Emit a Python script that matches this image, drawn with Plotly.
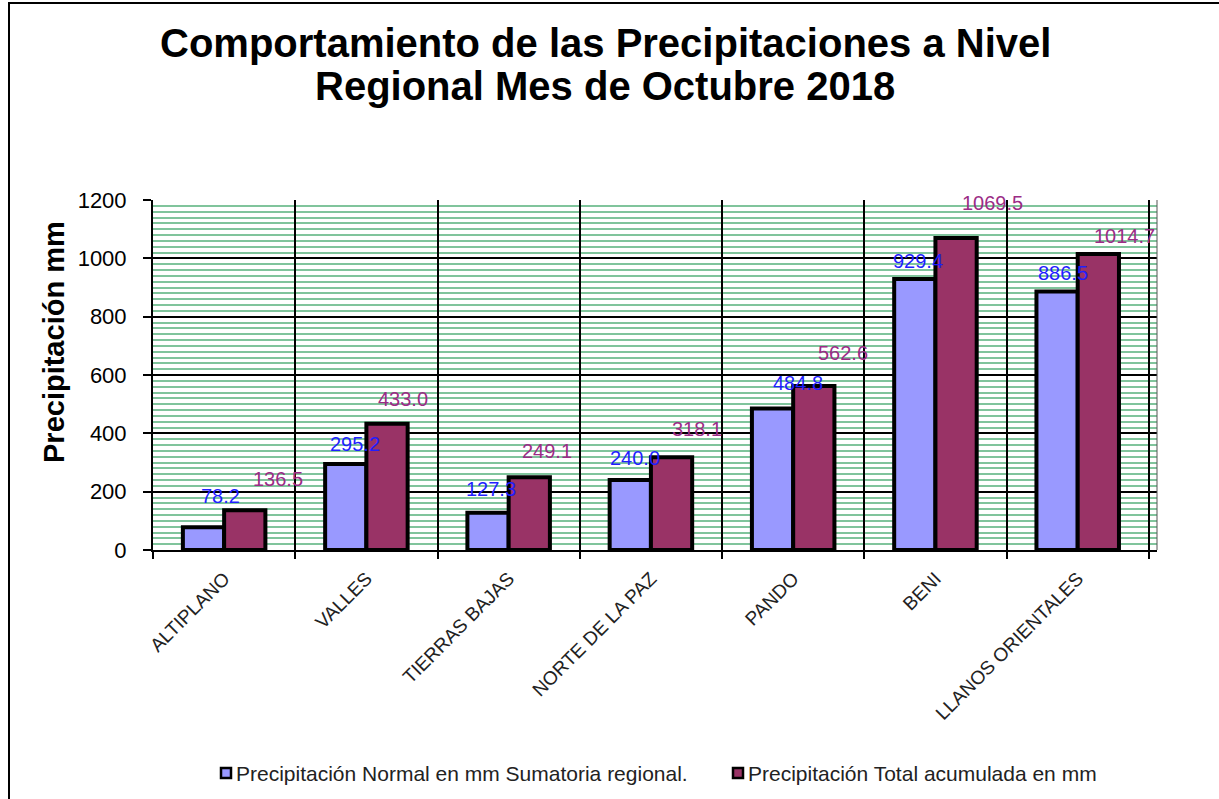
import plotly.graph_objects as go

# ---- data ----
categories = ["ALTIPLANO", "VALLES", "TIERRAS BAJAS", "NORTE DE LA PAZ",
              "PANDO", "BENI", "LLANOS ORIENTALES"]
normal_mm = [78.2, 295.2, 127.3, 240.0, 484.8, 929.4, 886.5]
total_mm = [136.5, 433.0, 249.1, 318.1, 562.6, 1069.5, 1014.7]
series_names = ["Precipitación Normal en mm Sumatoria regional.",
                "Precipitación Total acumulada en mm"]
y_ticks = [0, 200, 400, 600, 800, 1000, 1200]
title_lines = ["Comportamiento de las Precipitaciones a Nivel",
               "Regional Mes de Octubre 2018"]
y_title = "Precipitación mm"

# ---- style ----
W, H = 1219, 799
ML, MR, MT, MB = 153, 62, 200, 249
FONT = "Liberation Sans, Arial, sans-serif"
BLUE_FILL, RED_FILL = "#9999FF", "#993366"
BLUE_TXT, RED_TXT = "#1F1FFF", "#9B2C86"
# manual label offsets (pixels) as placed in the original chart
blue_dx = [17, 9, 3, 5, 26, 3, 6]
blue_dy = [31, 20, 24, 22, 26, 18, 18]
red_dx = [33, 16, 18, 25, 29, 36, 26]
red_dy = [31, 25, 26, 28, 33, 35, 18]
title_y_px = [43, 86]
legend_icon_x_px = [226, 738]
legend_y_px = 773

plot_w = W - ML - MR
plot_h = H - MT - MB
cat_w = plot_w / len(categories)
bargap = 0.42
half = cat_w * (1 - bargap) / 4  # center offset of each bar in group


def px_x(px):
    return (px - ML) / plot_w


def px_y(py):
    return (H - MB - py) / plot_h


fig = go.Figure()
fills = [BLUE_FILL, RED_FILL]
for name, vals, col in zip(series_names, [normal_mm, total_mm], fills):
    fig.add_trace(go.Bar(x=categories, y=vals, name=name, showlegend=False,
                         marker=dict(color=col, line=dict(color="black", width=4))))

ann = []
for i, c in enumerate(categories):
    ann.append(dict(x=c, y=normal_mm[i], xref="x", yref="y", text=f"{normal_mm[i]:.1f}",
                    showarrow=False, xshift=-half + blue_dx[i], yshift=blue_dy[i],
                    font=dict(family=FONT, size=20, color=BLUE_TXT)))
    ann.append(dict(x=c, y=total_mm[i], xref="x", yref="y", text=f"{total_mm[i]:.1f}",
                    showarrow=False, xshift=half + red_dx[i], yshift=red_dy[i],
                    font=dict(family=FONT, size=20, color=RED_TXT)))
# y axis title
ann.append(dict(x=px_x(36), y=px_y(342), xref="paper", yref="paper",
                text=f"<b>{y_title}</b>", textangle=-90, showarrow=False,
                font=dict(family=FONT, size=29, color="black")))
# chart title (two lines)
for line, ty in zip(title_lines, title_y_px):
    ann.append(dict(x=px_x(605), y=px_y(ty), xref="paper", yref="paper",
                    xanchor="center", yanchor="middle",
                    text=f"<b>{line}</b>", showarrow=False,
                    font=dict(family=FONT, size=40, color="black")))

shapes = [
    # outer chart frame
    dict(type="rect", xref="paper", yref="paper",
         x0=px_x(9), x1=1.2, y0=-0.9, y1=px_y(3),
         line=dict(color="black", width=2), fillcolor="rgba(0,0,0,0)", layer="below"),
    # right edge of plot area
    dict(type="line", xref="paper", yref="paper", x0=1, x1=1, y0=0, y1=1,
         line=dict(color="#555555", width=1)),
]

# legend (icons + labels)
for name, col, ix in zip(series_names, fills, legend_icon_x_px):
    shapes.append(dict(type="rect", xref="paper", yref="paper",
                       x0=px_x(ix - 5), x1=px_x(ix + 5),
                       y0=px_y(legend_y_px + 5), y1=px_y(legend_y_px - 5),
                       fillcolor=col, line=dict(color="black", width=2.5)))
    ann.append(dict(x=px_x(ix + 8), y=px_y(legend_y_px), xref="paper", yref="paper",
                    xanchor="left", yanchor="middle", text=name, showarrow=False,
                    font=dict(family=FONT, size=21, color="#222222")))

fig.update_layout(
    width=W, height=H,
    margin=dict(l=ML, r=MR, t=MT, b=MB, autoexpand=False),
    paper_bgcolor="white", plot_bgcolor="white",
    barmode="group", bargap=bargap, bargroupgap=0,
    font=dict(family=FONT, color="black"),
    showlegend=False,
    xaxis=dict(type="category", tickson="boundaries", ticks="outside", ticklen=7,
               tickcolor="black", tickwidth=1.5, showgrid=True, gridcolor="black", gridwidth=1.5,
               showline=True, linecolor="black", linewidth=2, tickangle=-45,
               ticklabelstandoff=8,
               tickfont=dict(family=FONT, size=19, color="#222222")),
    yaxis=dict(range=[0, 1200], tickvals=y_ticks, ticks="outside", ticklen=8,
               tickcolor="black", tickwidth=1.5, showgrid=True, gridcolor="black", gridwidth=1.5,
               showline=True, linecolor="black", linewidth=2, zeroline=False,
               ticklabelstandoff=12,
               tickfont=dict(family=FONT, size=22, color="black"),
               minor=dict(dtick=20, showgrid=True, gridcolor="#80C49C", gridwidth=2, ticks="")),
    annotations=ann, shapes=shapes,
)

fig.write_html("out.html", config={"displayModeBar": False},
               post_script="document.body.style.margin='0';")
